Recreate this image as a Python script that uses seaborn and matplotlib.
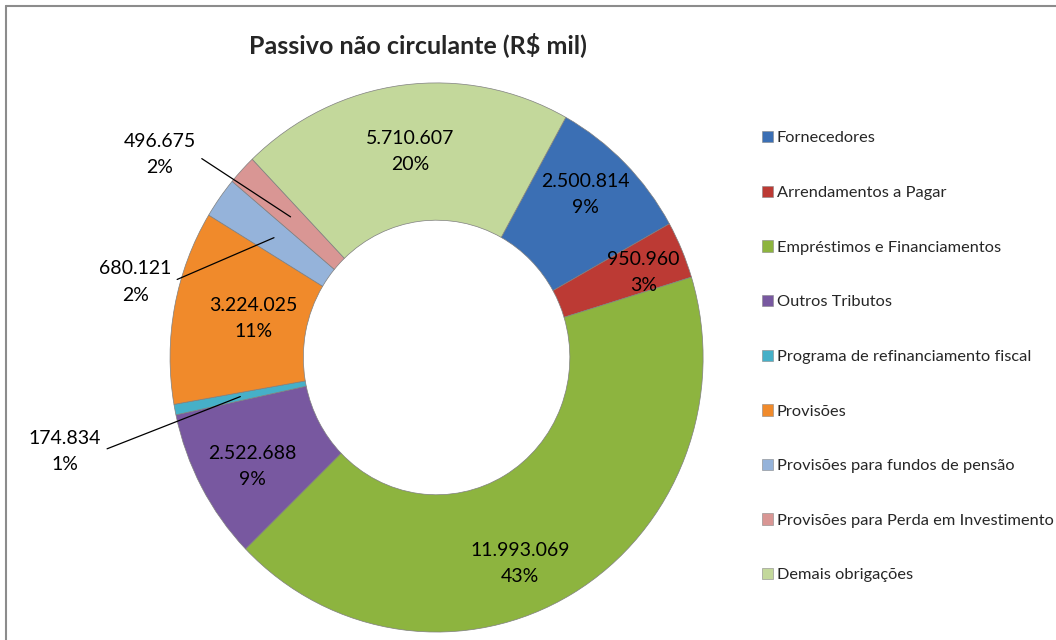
import numpy as np
import matplotlib
matplotlib.use("Agg")
import matplotlib.pyplot as plt
import seaborn as sns

# dados do gráfico (R$ mil)
categorias = ["Fornecedores", "Arrendamentos a Pagar", "Empréstimos e Financiamentos",
              "Outros Tributos", "Programa de refinanciamento fiscal", "Provisões",
              "Provisões para fundos de pensão", "Provisões para Perda em Investimento",
              "Demais obrigações"]
valores = [2500814, 950960, 11993069, 2522688, 174834, 3224025, 680121, 496675, 5710607]
rotulos_valor = ["2.500.814", "950.960", "11.993.069", "2.522.688", "174.834",
                 "3.224.025", "680.121", "496.675", "5.710.607"]
rotulos_pct = ["9%", "3%", "43%", "9%", "1%", "11%", "2%", "2%", "20%"]

cores = ["#3B6FB4", "#BC3A34", "#8DB43F", "#7858A0", "#46B0C8",
         "#F08A2B", "#95B3DA", "#D99694", "#C3D89B"]

sns.set_theme(style="white")
plt.rcParams['font.family'] = ['Lato', 'DejaVu Sans']

fig = plt.figure(figsize=(10.56, 6.4), dpi=100)
ax = fig.add_axes([0, 0, 1, 1])

wedges, _ = ax.pie(valores, colors=cores, startangle=61, counterclock=False, radius=1.0,
                   wedgeprops=dict(width=0.5, edgecolor="#7f7f7f", linewidth=0.5))

ax.set_aspect('auto')
ax.set_xlim(-1.638, 2.324)
ax.set_ylim(-1.029, 1.302)
ax.axis('off')

# rótulos internos (ajustes finos de posição)
ajustes = {0: (0.02, 0.055), 1: (0.076, 0.01), 2: (-0.074, -0.095),
           3: (-0.02, -0.04), 5: (0.06, 0.0), 8: (0.0, -0.005)}
# rótulos externos com linha de chamada
externos = {4: (-1.394, -0.341), 6: (-1.131, 0.275), 7: (-1.0375, 0.7377)}

for i, w in enumerate(wedges):
    ang = np.deg2rad((w.theta1 + w.theta2) / 2)
    texto = rotulos_valor[i] + "\n" + rotulos_pct[i]
    if i in externos:
        px, py = 0.75 * np.cos(ang), 0.75 * np.sin(ang)
        ax.annotate(texto, xy=(px, py), xytext=externos[i], ha='center', va='center',
                    fontsize=14, linespacing=1.65, color='black',
                    arrowprops=dict(arrowstyle='-', color='black', lw=0.9,
                                    relpos=(1, 0.5), shrinkA=2, shrinkB=0))
    else:
        dx, dy = ajustes.get(i, (0, 0))
        ax.text(0.76 * np.cos(ang) + dx, 0.76 * np.sin(ang) + dy, texto,
                ha='center', va='center', fontsize=14, linespacing=1.65, color='black')

fig.text(418 / 1056, 1 - 45 / 640, "Passivo não circulante (R$ mil)",
         ha='center', va='center', fontsize=18, fontweight='bold')

leg = fig.legend(wedges, categorias, loc='upper left',
                 bbox_to_anchor=(762 / 1056, 1 - 131 / 640), frameon=False,
                 fontsize=11.8, handlelength=0.7, handleheight=0.7,
                 handletextpad=0.2, labelspacing=2.45, borderpad=0, borderaxespad=0)
for h in leg.legend_handles:
    h.set_edgecolor('#888888')
    h.set_linewidth(0.4)

# moldura do gráfico
fig.add_artist(plt.Line2D([6 / 1056, 1], [1 - 6 / 640, 1 - 6 / 640],
                          transform=fig.transFigure, color='#8c8c8c', lw=1.5))
fig.add_artist(plt.Line2D([6 / 1056, 6 / 1056], [0, 1 - 6 / 640],
                          transform=fig.transFigure, color='#8c8c8c', lw=1.5))

fig.savefig("out.png", dpi=100, facecolor='white')
